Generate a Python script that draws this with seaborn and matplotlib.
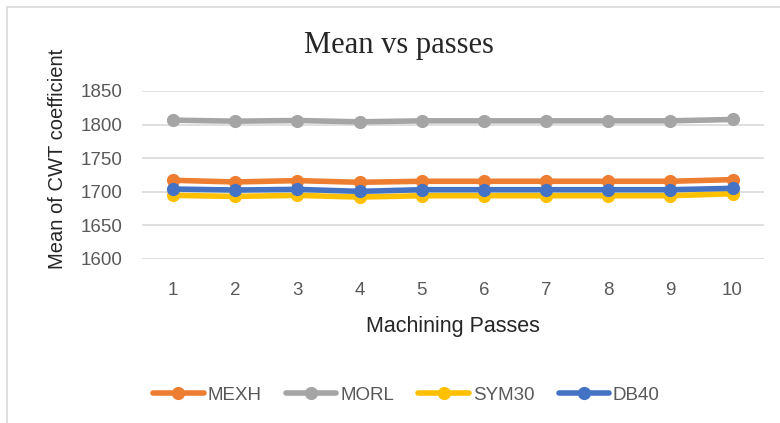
import numpy as np
import pandas as pd
import matplotlib
matplotlib.use("Agg")
import matplotlib.pyplot as plt
from matplotlib.lines import Line2D
import seaborn as sns

# data
passes = [1, 2, 3, 4, 5, 6, 7, 8, 9, 10]
mexh  = [1717, 1714.5, 1716.5, 1714, 1715.5, 1715.5, 1715.5, 1715.5, 1715.5, 1718]
morl  = [1806.5, 1805, 1806, 1804, 1805.5, 1805.5, 1805.5, 1805.5, 1805.5, 1807.5]
sym30 = [1694.5, 1693, 1694.5, 1692, 1694, 1694, 1694, 1694, 1694, 1697]
db40  = [1704, 1702.5, 1703.5, 1700.5, 1703, 1703, 1703, 1703, 1703, 1705]
series_names = ["MEXH", "MORL", "SYM30", "DB40"]
colors = ["#ED7D31", "#A5A5A5", "#FFC000", "#4472C4"]
y_ticks = [1600, 1650, 1700, 1750, 1800, 1850]

df = pd.DataFrame({"pass": passes * 4,
                   "value": mexh + morl + sym30 + db40,
                   "wavelet": np.repeat(series_names, len(passes))})

sns.set_style("white")
plt.rcParams["font.family"] = ["Liberation Sans", "DejaVu Sans"]

fig = plt.figure(figsize=(7.8, 4.23), dpi=100)
ax = fig.add_axes([0.182, 0.388, 0.797, 0.397])

sns.lineplot(data=df, x="pass", y="value", hue="wavelet", hue_order=series_names,
             palette=colors, marker="o", markersize=9.5, markeredgewidth=0,
             linewidth=4, legend=False, ax=ax)

ax.set_xlim(0.5, 10.5)
ax.set_ylim(1600, 1850)
ax.set_xticks(passes)
ax.set_yticks(y_ticks)
ax.tick_params(axis="both", length=0, labelsize=13.5, labelcolor="#595959")
ax.tick_params(axis="x", pad=17)
ax.tick_params(axis="y", pad=14)
ax.grid(axis="y", color="#d9d9d9", linewidth=1.2)
ax.set_axisbelow(True)
for s in ax.spines.values():
    s.set_visible(False)

ax.set_xlabel("Machining Passes", fontsize=15.5, labelpad=12)
ax.set_ylabel("Mean of CWT coefficient", fontsize=14.5)
ax.yaxis.set_label_coords(-0.12, 0.595)
fig.text(0.511, 0.892, "Mean vs passes", ha="center", va="center",
         fontsize=22, family="Liberation Serif")

handles = [Line2D([], [], color=c, lw=4, marker="o", markersize=9.5, markeredgewidth=0)
           for c in colors]
fig.legend(handles, series_names, loc="center", bbox_to_anchor=(0.521, 0.066), ncol=4,
           frameon=False, fontsize=13.5, handlelength=2.7, handletextpad=0.2,
           columnspacing=1.3, labelcolor="#595959")

# chart frame (left and top edges visible)
fig.add_artist(Line2D([0.009, 0.009], [0, 0.984], color="#d9d9d9", lw=1.2))
fig.add_artist(Line2D([0.009, 1], [0.984, 0.984], color="#d9d9d9", lw=1.2))

fig.savefig("out.png", dpi=100)
